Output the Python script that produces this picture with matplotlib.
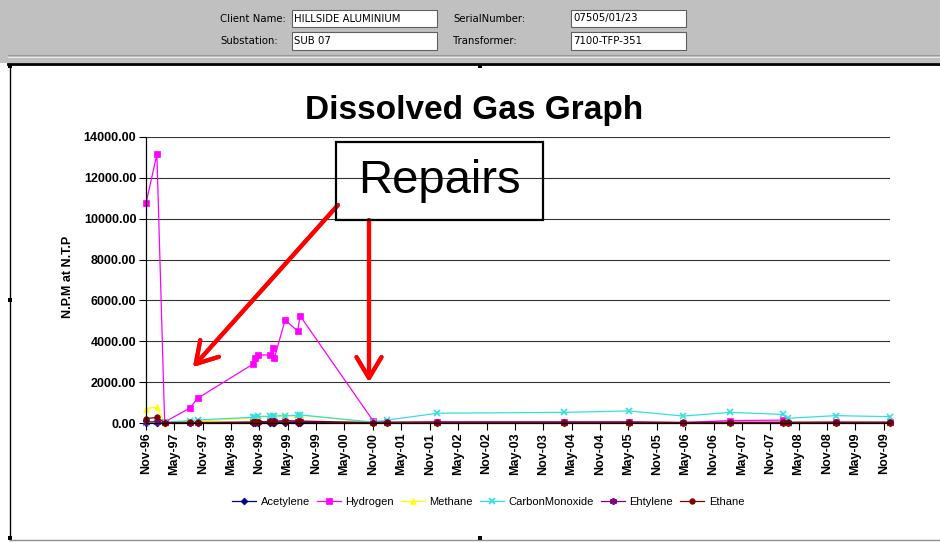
import datetime as dt

import matplotlib
matplotlib.use('Agg')
import matplotlib.pyplot as plt
import matplotlib.dates as mdates
from matplotlib.patches import Rectangle
import pandas as pd

W, H = 940, 542

# sample dates (all gases share the same sampling dates)
dates = ['1996-11-01', '1997-01-10', '1997-03-01', '1997-08-10', '1997-10-01',
         '1998-09-20', '1998-10-05', '1998-10-25', '1999-01-10', '1999-01-25',
         '1999-02-05', '1999-04-15', '1999-07-05', '1999-07-20', '2000-11-01',
         '2001-02-01', '2001-12-20', '2004-03-15', '2005-05-05', '2006-04-20',
         '2007-02-15', '2008-01-20', '2008-02-20', '2008-12-25', '2009-12-10']

acetylene = [5, 5, 0, 2, 2, 10, 10, 10, 12, 15, 15, 20, 20, 20, 0,
             0, 0, 0, 0, 0, 0, 0, 0, 0, 0]
hydrogen = [10750, 13150, 50, 730, 1220, 2880, 3180, 3330, 3330, 3650,
            3180, 5040, 4500, 5250, 110, 30, 60, 60, 60, 20, 120, 140, 20, 40, 30]
methane = [700, 780, 0, 60, 80, 250, 280, 300, 330, 350, 330, 390, 300, 380, 20,
           10, 20, 10, 10, 10, 10, 10, 10, 10, 10]
carbon_monoxide = [20, 30, 40, 120, 150, 280, 300, 320, 330, 340, 340, 350, 380, 400, 40,
                   140, 480, 520, 590, 340, 520, 420, 230, 360, 310]
ethylene = [60, 60, 0, 10, 10, 40, 50, 60, 80, 100, 90, 120, 100, 100, 10,
            5, 5, 5, 5, 5, 10, 10, 5, 5, 5]
ethane = [220, 270, 20, 30, 30, 40, 50, 50, 60, 60, 60, 50, 60, 60, 20,
          40, 40, 40, 40, 30, 40, 40, 40, 40, 40]

series_names = ['Acetylene', 'Hydrogen', 'Methane', 'CarbonMonoxide', 'Ehtylene', 'Ethane']
series_values = [acetylene, hydrogen, methane, carbon_monoxide, ethylene, ethane]
series_colors = ['#000080', '#ff00ff', '#ffff00', '#33e0e0', '#800080', '#800000']
series_markers = ['D', 's', '^', 'x', (6, 2, 0), 'o']
series_msize = [3.5, 5, 5, 4.5, 5, 4]

y_ticks = [0, 2000, 4000, 6000, 8000, 10000, 12000, 14000]
x_tick_dates = pd.date_range('1996-11-01', '2009-11-01', freq='6MS')

header_rows = [('Client Name:', 'HILLSIDE ALUMINIUM', 'SerialNumber:', '07505/01/23'),
               ('Substation:', 'SUB 07', 'Transformer:', '7100-TFP-351')]


def fx(x):
    return x / W


def fy(y):
    return 1 - y / H


fig = plt.figure(figsize=(W / 100, H / 100), dpi=100, facecolor='white')
plt.rcParams['font.family'] = ['Liberation Sans', 'DejaVu Sans']

# header band
fig.patches.append(Rectangle((0, fy(63)), 1, 63 / H, transform=fig.transFigure,
                             facecolor='#c0c0c0', edgecolor='none', zorder=0))
fig.add_artist(plt.Line2D([fx(8), 1], [fy(54.5), fy(54.5)], color='#9a9a9a', lw=0.8))
fig.add_artist(plt.Line2D([fx(8), 1], [fy(56.5), fy(56.5)], color='#e6e6e6', lw=0.8))
for i, (l1, v1, l2, v2) in enumerate(header_rows):
    yc = 18.5 + i * 22.5
    fig.text(fx(220), fy(yc), l1, fontsize=7.3, family='DejaVu Sans', va='center')
    fig.text(fx(453), fy(yc), l2, fontsize=7.3, family='DejaVu Sans', va='center')
    for x0, x1, val in ((292, 437, v1), (571, 686, v2)):
        fig.patches.append(Rectangle((fx(x0), fy(yc + 8.5)), (x1 - x0) / W, 17 / H,
                                     transform=fig.transFigure, facecolor='white',
                                     edgecolor='#606060', lw=0.8))
        fig.text(fx(x0 + 2), fy(yc), val, fontsize=7.3, family='DejaVu Sans', va='center')

# chart frame
fig.add_artist(plt.Line2D([fx(8), 1], [fy(64), fy(64)], color='black', lw=2))
fig.add_artist(plt.Line2D([fx(10), fx(10)], [fy(64), fy(540)], color='black', lw=1))
fig.add_artist(plt.Line2D([fx(10), 1], [fy(540), fy(540)], color='#909090', lw=1))
for hx, hy in ((10, 66), (480, 66), (10, 300), (10, 538), (480, 538)):
    fig.patches.append(Rectangle((fx(hx - 2), fy(hy + 2)), 4 / W, 4 / H,
                                 transform=fig.transFigure, facecolor='black',
                                 edgecolor='none'))

ax = fig.add_axes([fx(146), fy(423), (890 - 146) / W, (423 - 137) / H])
ax.set_facecolor('white')
xd = pd.to_datetime(dates)
for name, vals, c, m, ms in zip(series_names, series_values, series_colors,
                                series_markers, series_msize):
    ax.plot(xd, vals, color=c, marker=m, markersize=ms, lw=0.9, label=name,
            markeredgecolor=c, markeredgewidth=1.2 if m in ('x', (6, 2, 0)) else 0.5,
            clip_on=False)

ax.set_ylim(0, 14000)
ax.set_xlim(xd[0], xd[-1])
ax.set_yticks(y_ticks)
ax.set_yticklabels(['%.2f' % v for v in y_ticks], fontsize=9, fontweight='bold')
ax.set_xticks(x_tick_dates)
ax.xaxis.set_major_formatter(mdates.DateFormatter('%b-%y'))
for lbl in ax.get_xticklabels():
    lbl.set_rotation(90)
    lbl.set_fontsize(9)
    lbl.set_fontweight('bold')
ax.tick_params(axis='both', direction='out', length=5, width=0.8, color='black', pad=2)
ax.grid(axis='y', color='#333333', lw=0.8)
ax.set_axisbelow(True)
for s in ('top', 'right'):
    ax.spines[s].set_visible(False)
for s in ('left', 'bottom'):
    ax.spines[s].set_color('black')
    ax.spines[s].set_linewidth(0.9)

fig.text(fx(474), fy(111), 'Dissolved Gas Graph', fontsize=24, fontweight='bold',
         ha='center', va='center')
fig.text(fx(68), fy(277), 'N.P.M at N.T.P', fontsize=9, fontweight='bold',
         rotation=90, ha='center', va='center')

fig.legend(loc='center', bbox_to_anchor=(fx(488), fy(502)), ncol=6, fontsize=8,
           frameon=False, handlelength=2.2, handletextpad=0.4, columnspacing=0.6)

# Repairs annotation
fig.patches.append(Rectangle((fx(336), fy(220)), (543 - 336) / W, (220 - 142) / H,
                             transform=fig.transFigure, facecolor='none',
                             edgecolor='black', lw=1.6, zorder=5))
fig.text(fx(439.5), fy(181), 'Repairs', fontsize=34, ha='center', va='center', zorder=6)
arrow = dict(arrowstyle='->,head_length=0.75,head_width=0.45', color='red', lw=3,
             mutation_scale=20, shrinkA=0, shrinkB=0)
fig.add_artist(plt.annotate('', xy=(fx(193), fy(367)), xytext=(fx(338), fy(205)),
                            xycoords='figure fraction', textcoords='figure fraction',
                            arrowprops=arrow))
fig.add_artist(plt.annotate('', xy=(fx(369), fy(382)), xytext=(fx(369), fy(220)),
                            xycoords='figure fraction', textcoords='figure fraction',
                            arrowprops=arrow))

fig.savefig('out.png', dpi=100)
